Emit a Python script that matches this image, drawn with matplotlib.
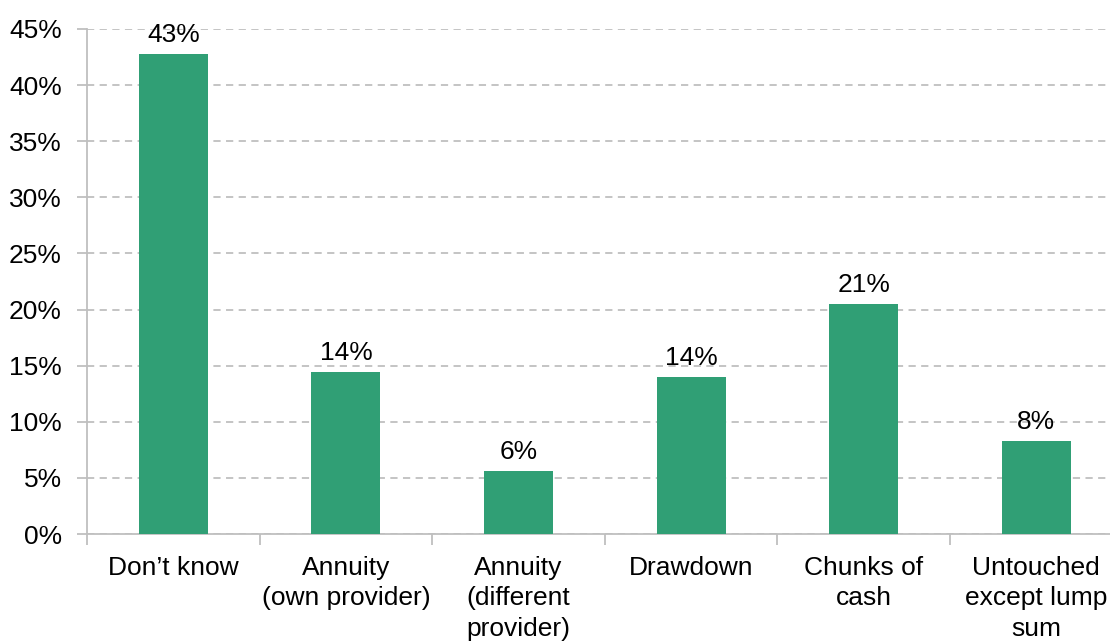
import matplotlib
matplotlib.use('Agg')
import matplotlib.pyplot as plt
import matplotlib.ticker as mticker
import numpy as np

plt.rcParams['font.family'] = ['Liberation Sans', 'DejaVu Sans']

# Данные
categories = ['Don\u2019t know', 'Annuity\n(own provider)', 'Annuity\n(different\nprovider)',
              'Drawdown', 'Chunks of\ncash', 'Untouched\nexcept lump\nsum']
values = [42.8, 14.4, 5.6, 14.0, 20.5, 8.3]
value_labels = ['43%', '14%', '6%', '14%', '21%', '8%']
y_ticks = [0, 5, 10, 15, 20, 25, 30, 35, 40, 45]

bar_color = '#309F75'
grid_color = '#BFBFBF'

fig = plt.figure(figsize=(11.1, 6.42), dpi=100)
ax = fig.add_axes([87 / 1110, 108 / 642, 1 - 87 / 1110, (534 - 29) / 642])

x = np.arange(len(categories))
bars = ax.bar(x, values, width=0.4, color=bar_color, zorder=3)

for b, lab in zip(bars, value_labels):
    ax.annotate(lab, (b.get_x() + b.get_width() / 2, b.get_height()),
                xytext=(0, 5), textcoords='offset points',
                ha='center', va='bottom', fontsize=19, color='#000000')

ax.set_yticks(y_ticks)
ax.yaxis.set_major_formatter(mticker.FuncFormatter(lambda v, _: f'{int(v)}%'))
ax.yaxis.grid(True, color=grid_color, linestyle=(0, (4, 3)), linewidth=1.3, zorder=0)

ax.set_xticks(x)
ax.set_xticklabels(categories, fontsize=19, linespacing=1.33, va='top')
ax.set_xticks(np.arange(-0.5, 6, 1), minor=True)
ax.tick_params(axis='x', which='major', length=0, pad=16)
ax.tick_params(axis='x', which='minor', length=8, width=1.3, color=grid_color)
ax.tick_params(axis='y', length=7, width=1.3, color=grid_color, pad=11, labelsize=19)

# лимиты после set_xticks, иначе тики расширяют вид
ax.set_ylim(0, 45)
ax.set_xlim(-0.5, -0.5 + 1023 / 172.6)

for side in ['top', 'right']:
    ax.spines[side].set_visible(False)
for side in ['left', 'bottom']:
    ax.spines[side].set_color(grid_color)
    ax.spines[side].set_linewidth(1.3)

plt.savefig('out.png', dpi=100)
plt.close()
print('OK: out.png')
